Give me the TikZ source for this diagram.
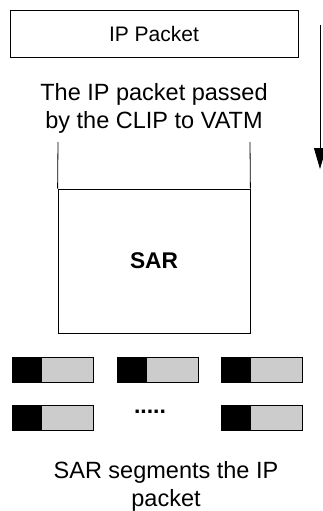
\documentclass[tikz,border=0pt]{standalone}
\usepackage{fontspec}
\setmainfont{Liberation Sans}
\usetikzlibrary{arrows.meta}
\tikzset{
  seghead/.style={fill=black, draw=black, minimum width=28pt, minimum height=25pt, inner sep=0pt, anchor=west},
  segbody/.style={fill=gray!40, draw=black, minimum width=52pt, minimum height=25pt, inner sep=0pt, anchor=west},
  caption/.style={font=\fontsize{23.5}{28}\selectfont, align=center},
}
\begin{document}
\begin{tikzpicture}[x=1pt, y=-1pt, line width=0.8pt]
  \useasboundingbox (0,0) rectangle (323,511);

  % the packet handed down
  \node[draw, minimum width=288pt, minimum height=47pt, font=\fontsize{21}{25}\selectfont] (ip) at (154,33.5) {IP Packet};
  \node[caption] (passed) at (154,108) {The IP packet passed\\by the CLIP to VATM};

  % direction of flow
  \coordinate (flowtop) at (320,25);
  \coordinate (flowend) at (320,169);
  \draw[-{Triangle[width=12pt,length=21pt]}] (flowtop) -- (flowend);

  % SAR block, open at the top
  \node[draw, minimum width=192pt, minimum height=144pt, inner sep=0pt, font=\bfseries\fontsize{22.7}{27}\selectfont] (sar) at (154,261) {SAR};
  \coordinate (sartl) at (58,142);
  \coordinate (sartr) at (250,142);
  \draw (sartl) -- (sar.north west) (sartr) -- (sar.north east);

  % the cells that come out
  \foreach \x/\y/\n in {12/369.5/a, 117/369.5/b, 221/369.5/c, 12/417.5/d, 221/417.5/e} {
    \node[seghead] (head\n) at (\x,\y) {};
    \node[segbody] (body\n) at (head\n.east) {};
  }
  \node[font=\bfseries\fontsize{23}{27}\selectfont] (more) at (150,412) {.....};

  \node[caption] (segments) at (166,486) {SAR segments the IP\\packet};
\end{tikzpicture}
\end{document}
